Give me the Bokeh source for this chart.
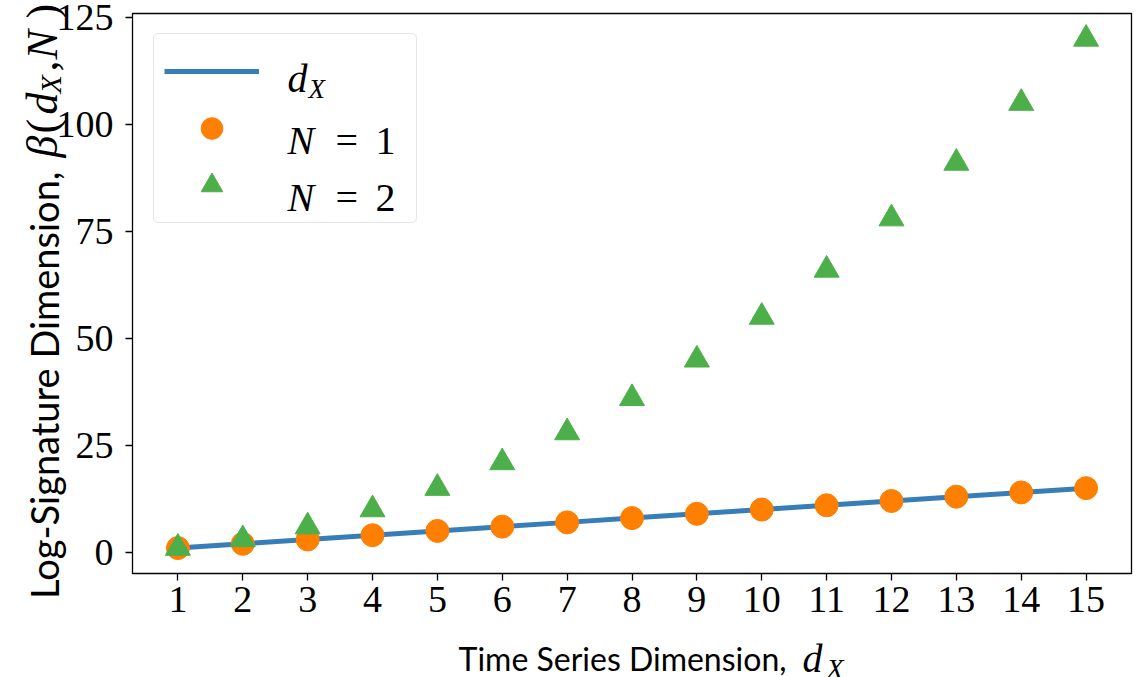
from bokeh.plotting import figure
from bokeh.models import (Label, Legend, LegendItem, FixedTicker, Range1d,
                          BoxAnnotation)
from bokeh.embed import file_html
from bokeh.resources import INLINE
import math

# ---- data ----
dims = [1, 2, 3, 4, 5, 6, 7, 8, 9, 10, 11, 12, 13, 14, 15]
line_dx = [1, 2, 3, 4, 5, 6, 7, 8, 9, 10, 11, 12, 13, 14, 15]
beta_n1 = [1, 2, 3, 4, 5, 6, 7, 8, 9, 10, 11, 12, 13, 14, 15]
beta_n2 = [1, 3, 6, 10, 15, 21, 28, 36, 45, 55, 66, 78, 91, 105, 120]
x_ticks = [1, 2, 3, 4, 5, 6, 7, 8, 9, 10, 11, 12, 13, 14, 15]
y_ticks = [0, 25, 50, 75, 100, 125]
x_lim = (0.3, 15.7)
y_lim = (-4.95, 125.95)

BLUE = "#377eb8"
ORANGE = "#ff7f00"
GREEN = "#4daf4a"
SERIF = "Liberation Serif"
SANS = "Lato"

W, H = 1138, 677
L, R, T, B = 132, 1131, 13, 573   # visible axes box, page pixels

# the canvas-wide frame: extend the ranges so that the axes box lands at L..R, T..B
kx = (x_lim[1] - x_lim[0]) / (R - L)
ky = (y_lim[1] - y_lim[0]) / (B - T)
xr = Range1d(x_lim[0] - L * kx, x_lim[1] + (W - R) * kx)
yr = Range1d(y_lim[0] - (H - B) * ky, y_lim[1] + T * ky)

p = figure(width=W, height=H, output_backend="svg", toolbar_location=None,
           x_range=xr, y_range=yr, min_border=0)
p.background_fill_color = "white"
p.border_fill_color = "white"
p.outline_line_color = None
p.xgrid.visible = False
p.ygrid.visible = False

p.xaxis.fixed_location = y_lim[0]
p.yaxis.fixed_location = x_lim[0]
p.xaxis.bounds = x_lim
p.yaxis.bounds = y_lim
for ax in (p.xaxis, p.yaxis):
    ax.axis_line_color = None
    ax.major_tick_line_color = "black"
    ax.major_tick_line_width = 1.3
    ax.major_tick_out = 7
    ax.major_tick_in = 0
    ax.minor_tick_line_color = None
    ax.major_label_text_font = SERIF
    ax.major_label_text_font_size = "38px"
    ax.major_label_text_color = "black"
p.xaxis.ticker = FixedTicker(ticks=x_ticks)
p.yaxis.ticker = FixedTicker(ticks=y_ticks)
p.xaxis.major_label_standoff = 6
p.yaxis.major_label_standoff = 12

# axes box (spines)
p.add_layout(BoxAnnotation(left=x_lim[0], right=x_lim[1], bottom=y_lim[0],
                           top=y_lim[1], fill_alpha=0, line_color="black",
                           line_alpha=1.0, line_width=1.3, level="underlay"))

r_line = p.line(dims, line_dx, line_color=BLUE, line_width=5)
r_n1 = p.scatter(dims, beta_n1, marker="circle", size=23, fill_color=ORANGE,
                 line_color=ORANGE)
r_n2 = p.scatter(dims, beta_n2, marker="triangle", size=25, fill_color=GREEN,
                 line_color=GREEN)

legend = Legend(items=[LegendItem(label=" ", renderers=[r_line]),
                       LegendItem(label=" ", renderers=[r_n1]),
                       LegendItem(label=" ", renderers=[r_n2])],
                location=(153, H - 223), padding=10, spacing=3,
                glyph_width=95, glyph_height=54, label_standoff=29,
                label_width=118, label_height=20, label_text_font_size="10px",
                border_line_color="#d0d0d0", border_line_width=1.5,
                background_fill_color="white", background_fill_alpha=0.0)
if "border_radius" in Legend.properties():
    legend.border_radius = 5
p.add_layout(legend)


def lab(text, px, py, size, font, style="normal", angle=0.0, align="left"):
    """place a text at page pixel (px, py) (baseline anchor)"""
    p.add_layout(Label(x=px, y=H - py, x_units="screen", y_units="screen",
                       text=text, text_font=font, text_font_size=f"{size}px",
                       text_font_style=style, angle=angle, text_align=align,
                       text_baseline="alphabetic", text_color="black",
                       level="overlay"))


# legend texts
lab("d", 287, 78, 40, SERIF, "italic")
lab("X", 308, 88, 27, SERIF, "italic")
for base, num in ((140, "1"), (197, "2")):
    lab("N", 287, base, 40, SERIF, "italic")
    lab("=", 335, base, 40, SERIF)
    lab(num, 375, base, 40, SERIF)

# y-axis title (rotated, reads bottom to top)
A = math.pi / 2
lab("Log-Signature Dimension,", 43, 171, 38, SANS, angle=A, align="right")
lab("\u03b2", 42, 157, 44, SERIF, "italic", angle=A)
lab("(", 42, 133, 44, SERIF, angle=A)
lab("d", 42, 114, 44, SERIF, "italic", angle=A)
lab("X", 50, 93, 30, SERIF, "italic", angle=A)
lab(",", 42, 71, 44, SERIF, angle=A)
lab("N", 42, 59, 44, SERIF, "italic", angle=A)
lab(")", 42, 18, 44, SERIF, angle=A)

# x-axis title
lab("Time Series Dimension,", 786, 658, 32, SANS, align="right")
lab("d", 802, 658, 40, SERIF, "italic")
lab("X", 826, 668, 28, SERIF, "italic")

open("out.html", "w").write(file_html(p, INLINE))
